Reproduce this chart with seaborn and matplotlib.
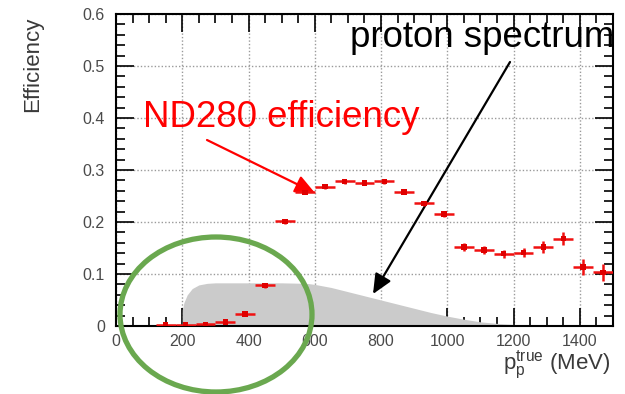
import numpy as np
import pandas as pd
import matplotlib
matplotlib.use("Agg")
import matplotlib.pyplot as plt
from matplotlib.patches import Ellipse
from matplotlib.ticker import MultipleLocator, FuncFormatter
import seaborn as sns

# Reconstructed proton momentum bins (MeV), bin half-width 30 MeV
p_true = [150, 210, 270, 330, 390, 450, 510, 570, 630, 690, 750, 810,
          870, 930, 990, 1050, 1110, 1170, 1230, 1290, 1350, 1410, 1470]
efficiency = [0.002, 0.002, 0.003, 0.008, 0.023, 0.078, 0.201, 0.257,
              0.268, 0.278, 0.275, 0.278, 0.258, 0.236, 0.215, 0.152,
              0.146, 0.139, 0.141, 0.152, 0.168, 0.113, 0.103]
eff_err = [0.002, 0.002, 0.002, 0.003, 0.003, 0.004, 0.004, 0.004,
           0.004, 0.004, 0.004, 0.005, 0.005, 0.005, 0.006, 0.007,
           0.008, 0.008, 0.009, 0.011, 0.013, 0.015, 0.016]
bin_half = [30] * len(p_true)

# Proton momentum spectrum (arbitrary normalisation)
p_spec = [200, 205, 215, 230, 250, 275, 300, 400, 500, 575, 600, 650,
          700, 750, 800, 850, 900, 950, 1000, 1050, 1100, 1150, 1200,
          1300, 1400, 1500]
spectrum = [0.030, 0.045, 0.060, 0.072, 0.079, 0.082, 0.083, 0.083,
            0.083, 0.082, 0.080, 0.074, 0.066, 0.058, 0.050, 0.042,
            0.034, 0.026, 0.019, 0.013, 0.008, 0.005, 0.003, 0.001,
            0.0, 0.0]

df = pd.DataFrame({"p": p_true, "eff": efficiency})

sns.set_theme(style="ticks")
plt.rcParams["font.family"] = ["Liberation Sans", "DejaVu Sans"]
plt.rcParams["mathtext.fontset"] = "custom"
plt.rcParams["mathtext.rm"] = "Liberation Sans"

fig = plt.figure(figsize=(6.25, 3.94), dpi=100)
ax = fig.add_axes([116 / 625, 1 - 326 / 394, 497 / 625, 312 / 394])

# spectrum shape
ax.fill_between(p_spec, spectrum, 0, color="#cbcbcb", lw=0, zorder=2)

# efficiency crosses
ax.errorbar(p_true, efficiency, xerr=bin_half, yerr=eff_err, fmt="none",
            ecolor="#f01010", elinewidth=1.8, capsize=0, zorder=4)
sns.scatterplot(data=df, x="p", y="eff", marker="s", s=16, color="#e00000",
                edgecolor="none", ax=ax, zorder=5)

ax.set_xlim(0, 1500)
ax.set_ylim(0, 0.6)
ax.xaxis.set_major_locator(MultipleLocator(200))
ax.xaxis.set_minor_locator(MultipleLocator(50))
ax.yaxis.set_major_locator(MultipleLocator(0.1))
ax.yaxis.set_minor_locator(MultipleLocator(0.02))
ax.yaxis.set_major_formatter(FuncFormatter(lambda v, _: "0" if abs(v) < 1e-9 else f"{v:.1f}"))
ax.xaxis.set_major_formatter(FuncFormatter(lambda v, _: f"{v:.0f}"))

ax.grid(True, which="major", linestyle=(0, (1, 1.5)), color="#9a9a9a", lw=1.0, zorder=1)
ax.set_axisbelow(True)

ax.tick_params(which="both", direction="in", top=True, right=True,
               colors="black", labelcolor="#4a4a4a", labelsize=11.5, width=1.2)
ax.tick_params(which="major", length=13)
ax.tick_params(which="minor", length=6.5)
ax.tick_params(axis="y", pad=8)
ax.tick_params(axis="x", pad=6)
for s in ax.spines.values():
    s.set_linewidth(1.5)
    s.set_color("black")

ax.set_ylabel("Efficiency", fontsize=16, color="#3a3a3a")
ax.yaxis.label.set_va("center")
ax.yaxis.label.set_ha("center")
ax.yaxis.set_label_coords(-0.167, 0.84)

ax.set_xlabel(r"$\mathregular{p_{p}^{true}}$ (MeV)", fontsize=16, color="#3a3a3a")
ax.xaxis.label.set_ha("right")
ax.xaxis.label.set_va("baseline")
ax.xaxis.set_label_coords(0.994, -0.138)

# annotations
fig.text(143, 267, "ND280 efficiency", transform=None, fontsize=26.4,
         color="#ff0000", va="baseline", ha="left")
fig.text(350, 347, "proton spectrum", transform=None, fontsize=26.4,
         color="black", va="baseline", ha="left")

ax.annotate("", xy=(315, 201), xytext=(207, 254),
            xycoords="figure pixels", textcoords="figure pixels",
            annotation_clip=False,
            arrowprops=dict(arrowstyle="-|>,head_length=1.0,head_width=0.45",
                            color="#ff0000", lw=1.6, shrinkA=0, shrinkB=0))
ax.annotate("", xy=(373, 100), xytext=(510, 332),
            xycoords="figure pixels", textcoords="figure pixels",
            annotation_clip=False,
            arrowprops=dict(arrowstyle="-|>,head_length=1.0,head_width=0.45",
                            color="black", lw=1.6, shrinkA=0, shrinkB=0))

ring = Ellipse((216 / 625, 1 - 314.5 / 394), 192 / 625, 155 / 394,
               transform=fig.transFigure, fill=False,
               edgecolor="#6aa84f", lw=3.8, clip_on=False)
fig.add_artist(ring)

fig.savefig("out.png", dpi=100)
